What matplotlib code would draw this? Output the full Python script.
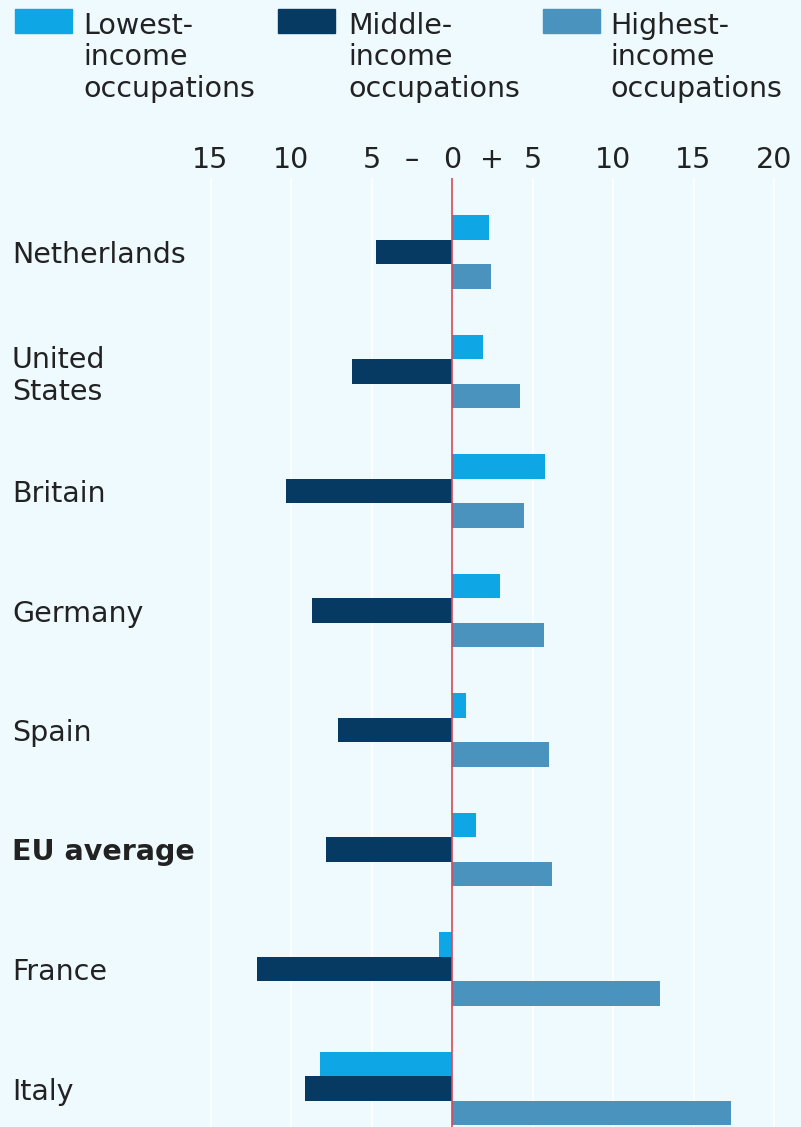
import matplotlib
matplotlib.use("Agg")
import matplotlib.pyplot as plt
import numpy as np

countries = ["Netherlands", "United\nStates", "Britain", "Germany", "Spain", "EU average", "France", "Italy"]
lowest = [2.3, 1.9, 5.8, 3.0, 0.9, 1.5, -0.8, -8.2]
middle = [-4.7, -6.2, -10.3, -8.7, -7.1, -7.8, -12.1, -9.1]
highest = [2.4, 4.2, 4.5, 5.7, 6.0, 6.2, 12.9, 17.3]
series_names = ["Lowest-\nincome\noccupations", "Middle-\nincome\noccupations", "Highest-\nincome\noccupations"]
tick_pos = [-15, -10, -5, -2.5, 0, 2.5, 5, 10, 15, 20]
tick_labels = ["15", "10", "5", "\u2013", "0", "+", "5", "10", "15", "20"]

colors = ["#0fa6e6", "#063a63", "#4a93bf"]
bg = "#eefafd"
FONT = "DejaVu Sans"
FS = 20.5
TXT = "#222222"
LS = 1.17

W, H = 801, 1127
fig = plt.figure(figsize=(W / 100, H / 100), dpi=100, facecolor=bg)

AX_TOP = 178
ax = fig.add_axes([180 / W, 0, (W - 180) / W, (H - AX_TOP) / H], facecolor=bg)
ax.set_xlim((180 - 452) / 16.1, (801 - 452) / 16.1)
top = -(252 - AX_TOP) / 119.5
bot = (1127 - 252) / 119.5
ax.set_ylim(bot, top)

y = np.arange(len(countries))
bh = 0.205
for vals, c, off in zip([lowest, middle, highest], colors, [-bh, 0, bh]):
    ax.barh(y + off, vals, height=bh, color=c, zorder=3)

for g in [-15, -10, -5, 5, 10, 15, 20]:
    ax.axvline(g, color="white", lw=1.2, zorder=1)
ax.axvline(0, color="#d9485a", lw=1.2, zorder=4)

ax.xaxis.tick_top()
ax.set_xticks(tick_pos)
ax.set_xticklabels(tick_labels, fontsize=FS, family=FONT, color=TXT)
ax.tick_params(axis="x", length=0, pad=3)
ax.set_yticks([])
for s in ax.spines.values():
    s.set_visible(False)

# country labels (baseline of last line)
for i, name in enumerate(countries):
    yc = 252 + i * 119.5
    nlines = name.count("\n") + 1
    base = yc + 11 if nlines == 1 else yc + 28
    fig.text(12 / W, 1 - base / H, name, fontsize=FS, family=FONT, color=TXT,
             ha="left", va="baseline", linespacing=LS,
             fontweight="bold" if name == "EU average" else "normal")

# legend
sq_x = [15, 278, 543]
tx_x = [83, 348, 610]
for sx, tx, c, name in zip(sq_x, tx_x, colors, series_names):
    fig.patches.append(plt.Rectangle((sx / W, 1 - 33 / H), 57 / W, 24 / H,
                                     transform=fig.transFigure, color=c))
    fig.text(tx / W, 1 - 97 / H, name, fontsize=FS, family=FONT, color=TXT,
             ha="left", va="baseline", linespacing=LS)

fig.savefig("out.png", dpi=100, facecolor=bg)
